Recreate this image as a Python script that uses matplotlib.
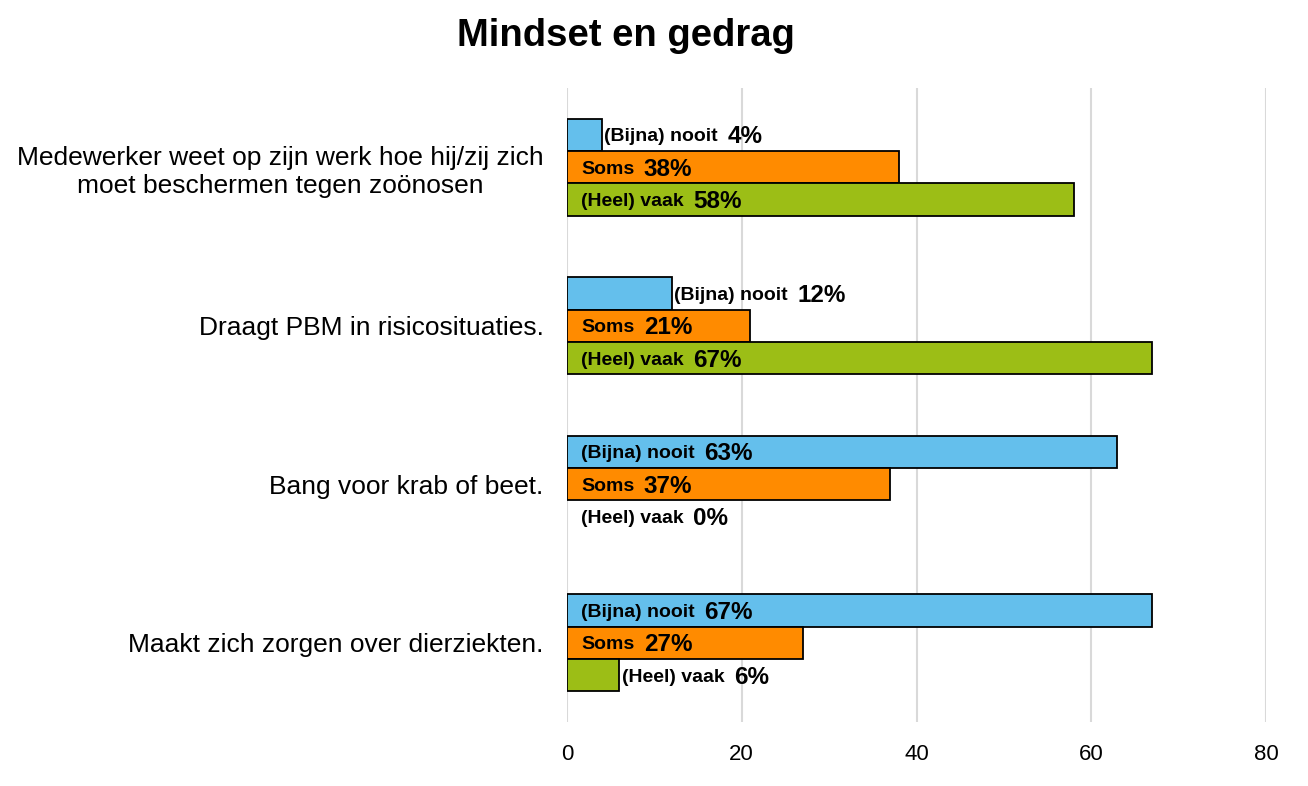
import matplotlib.pyplot as plt
from matplotlib import font_manager
import numpy as np

# register the Liberation Sans files (regular and narrow)
for f in font_manager.findSystemFonts():
    name = f.split('/')[-1]
    if name.startswith('LiberationSans'):
        font_manager.fontManager.addfont(f)
plt.rcParams['font.family'] = ['Liberation Sans', 'DejaVu Sans']

# Data
categories = [
    "Medewerker weet op zijn werk hoe hij/zij zich\nmoet beschermen tegen zoönosen",
    "Draagt PBM in risicosituaties.",
    "Bang voor krab of beet.",
    "Maakt zich zorgen over dierziekten.",
]
series_names = ["(Bijna) nooit", "Soms", "(Heel) vaak"]
nooit = [4, 12, 63, 67]
soms = [38, 21, 37, 27]
vaak = [58, 67, 0, 6]
colors = ["#64BFEC", "#FF8B00", "#9CBE16"]
x_ticks = [0, 20, 40, 60, 80]

fig = plt.figure(figsize=(13.08, 7.86), dpi=100)
ax = fig.add_axes([567 / 1308, 1 - 722 / 786, 699 / 1308, 634 / 786])

y = np.arange(len(categories))
h = 0.205
for k, (vals, name, col) in enumerate(zip([nooit, soms, vaak], series_names, colors)):
    pos = y + (k - 1) * h
    edges = ['black' if v > 0 else 'none' for v in vals]
    ax.barh(pos, vals, height=h, color=col, edgecolor=edges, linewidth=1.3, zorder=3)
    for p, v in zip(pos, vals):
        # small bars get the label after the bar end, others inside
        if 0 < v < 15:
            lx = v + 0.25
        else:
            lx = 1.6
        t1 = ax.text(lx, p + 0.012, name, ha='left', va='center', fontsize=14,
                     fontweight='bold', zorder=4)
        ax.annotate(f"{v}%", xy=(1, 0.5), xycoords=t1, xytext=(7, 0),
                    textcoords='offset points', ha='left', va='center',
                    fontsize=17.5, fontweight='bold', zorder=4)

ax.set_xlim(0, 80)
ax.set_ylim(3.5, -0.5)
ax.set_xticks(x_ticks)
ax.set_yticks(y)
ax.set_yticklabels(categories, fontsize=19, multialignment='center')
ax.tick_params(axis='both', length=0)
ax.tick_params(axis='y', pad=17)
ax.tick_params(axis='x', pad=16)
for lab in ax.get_xticklabels():
    lab.set_family(['Liberation Sans Narrow', 'Liberation Sans', 'DejaVu Sans'])
    lab.set_fontsize(16)
ax.grid(axis='x', color='#D9D9D9', linewidth=1.5, zorder=0)
for s in ax.spines.values():
    s.set_visible(False)

fig.text(626 / 1308, 1 - 36 / 786, "Mindset en gedrag", ha='center', va='center',
         fontsize=27.5, fontweight='bold')

plt.savefig('out.png', dpi=100)
